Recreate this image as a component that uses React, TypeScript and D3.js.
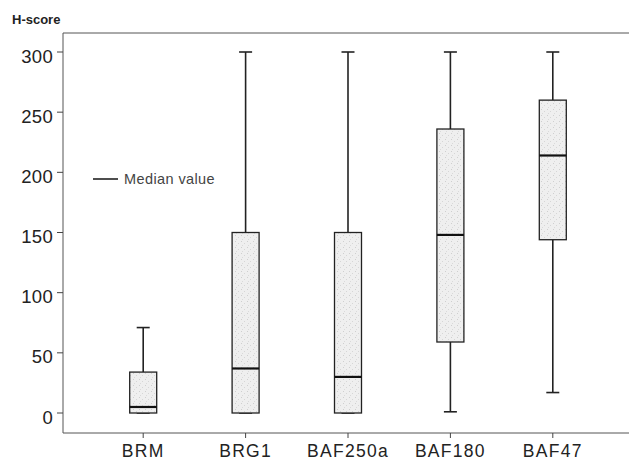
import React from "react";
import * as d3 from "d3";

const categories = ["BRM", "BRG1", "BAF250a", "BAF180", "BAF47"];
const minValues = [0, 0, 0, 1, 17];
const q1Values = [0, 0, 0, 59, 144];
const medianValues = [5, 37, 30, 148, 214];
const q3Values = [34, 150, 150, 236, 260];
const maxValues = [71, 300, 300, 300, 300];
const yTicks = [0, 50, 100, 150, 200, 250, 300];

const W = 629;
const H = 460;
const left = 63;
const right = 629;
const top = 33;
const bottom = 433;

export default function App() {
  const x = d3.scaleBand<string>().domain(categories).range([92, 604]).padding(0);
  const y = d3.scaleLinear().domain([0, 300]).range([413, 52]);
  const boxW = 27;
  const capW = 13;
  const font = "Arial, 'Liberation Sans', sans-serif";

  return (
    <svg width={W} height={H} style={{ position: "absolute", left: 0, top: 0, background: "#fff" }}>
      <defs>
        <pattern id="stip" width="6" height="6" patternUnits="userSpaceOnUse">
          <rect width="6" height="6" fill="#efefef" />
          <rect x="1" y="1" width="1" height="1" fill="#cfcfcf" />
          <rect x="4" y="3" width="1" height="1" fill="#d6d6d6" />
          <rect x="2" y="5" width="1" height="1" fill="#dadada" />
        </pattern>
      </defs>
      <text x={12} y={24} fontFamily={font} fontWeight="bold" fontSize={13} fill="#222">H-score</text>
      {/* frame */}
      <line x1={left} x2={right} y1={top} y2={top} stroke="#555" strokeWidth={1} />
      <line x1={left} x2={right} y1={bottom} y2={bottom} stroke="#555" strokeWidth={1} />
      <line x1={left} x2={left} y1={top} y2={bottom} stroke="#555" strokeWidth={1} />
      {yTicks.map((t) => (
        <g key={t}>
          <line x1={left - 6} x2={left} y1={y(t)} y2={y(t)} stroke="#444" />
          <text x={left - 10} y={y(t) + 10.5} textAnchor="end" fontFamily={font} fontSize={18.5} letterSpacing={0.3} fill="#222">{t}</text>
        </g>
      ))}
      {categories.map((c, i) => {
        const cx = (x(c) as number) + x.bandwidth() / 2;
        return (
          <g key={c}>
            <line x1={cx} x2={cx} y1={bottom} y2={bottom + 5} stroke="#444" />
            <text x={cx} y={bottom + 24} textAnchor="middle" fontFamily={font} fontSize={17.5} letterSpacing={1.3} fill="#222">{c}</text>
            <line x1={cx} x2={cx} y1={y(maxValues[i])} y2={y(q3Values[i])} stroke="#222" strokeWidth={1.6} />
            <line x1={cx} x2={cx} y1={y(q1Values[i])} y2={y(minValues[i])} stroke="#222" strokeWidth={1.6} />
            <line x1={cx - capW / 2} x2={cx + capW / 2} y1={y(maxValues[i])} y2={y(maxValues[i])} stroke="#222" strokeWidth={1.6} />
            <line x1={cx - capW / 2} x2={cx + capW / 2} y1={y(minValues[i])} y2={y(minValues[i])} stroke="#222" strokeWidth={1.6} />
            <rect x={cx - boxW / 2} y={y(q3Values[i])} width={boxW} height={y(q1Values[i]) - y(q3Values[i])} fill="url(#stip)" stroke="#222" strokeWidth={1.3} />
            <line x1={cx - boxW / 2} x2={cx + boxW / 2} y1={y(medianValues[i])} y2={y(medianValues[i])} stroke="#111" strokeWidth={2.2} />
          </g>
        );
      })}
      {/* legend */}
      <line x1={93} x2={118} y1={179} y2={179} stroke="#222" strokeWidth={1.6} />
      <text x={124} y={183.5} fontFamily={font} fontSize={14.5} letterSpacing={0.4} fill="#444">Median value</text>
    </svg>
  );
}
